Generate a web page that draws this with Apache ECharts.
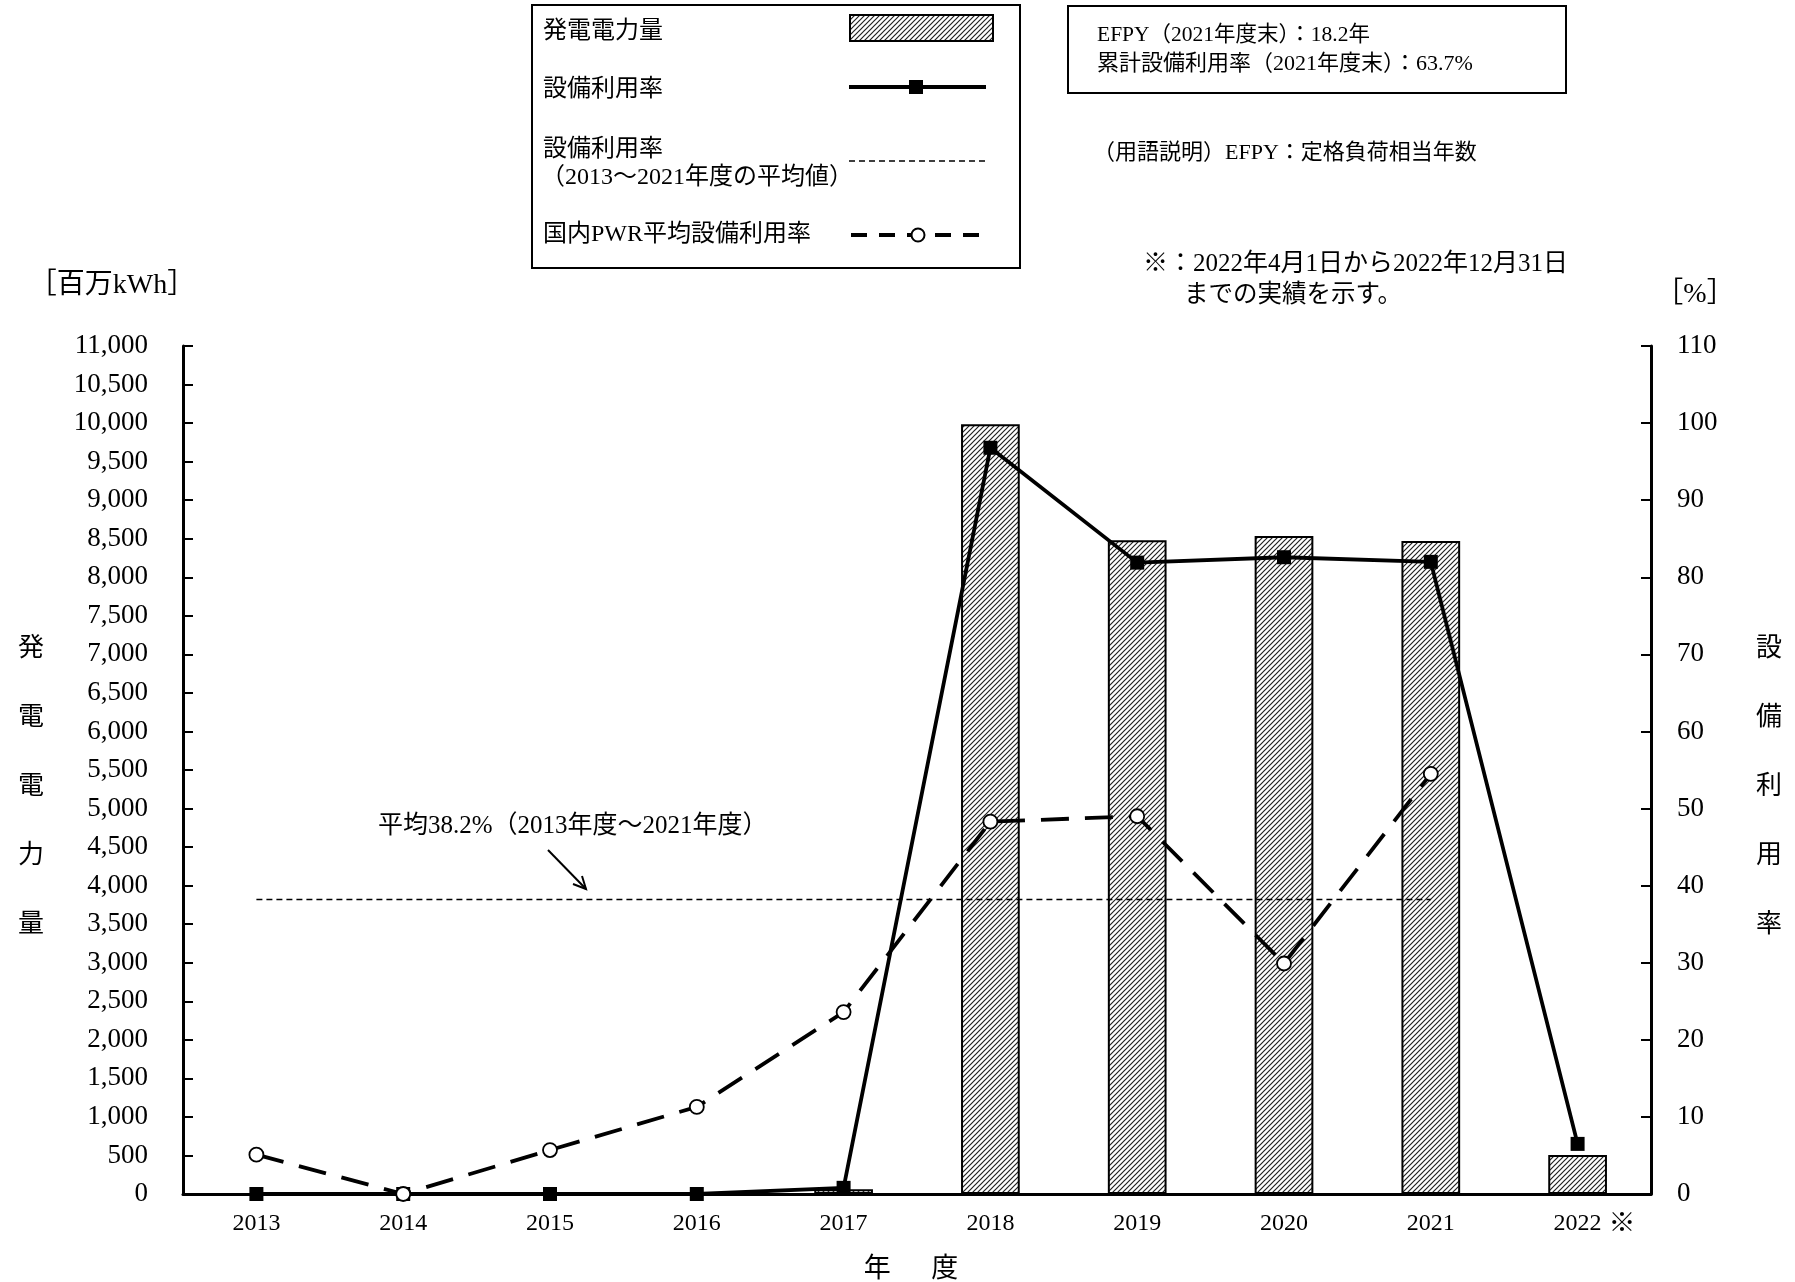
<!DOCTYPE html>
<html><head><meta charset="utf-8">
<script src="https://cdn.jsdelivr.net/npm/echarts@6/dist/echarts.min.js"></script>
<style>html,body{margin:0;padding:0;background:#fff}#c{width:1795px;height:1282px}</style>
</head><body><div id="c"></div>
<script>
// ---- data ----
const years = ['2013','2014','2015','2016','2017','2018','2019','2020','2021','2022'];
const generation = [0, 0, 0, 0, 60, 9985, 8480, 8535, 8470, 505];          // 百万kWh
const capacityFactor = [0, 0, 0, 0, 0.8, 96.8, 81.9, 82.6, 82.0, 6.5];      // %
const pwrAverage = [5.1, 0, 5.7, 11.3, 23.6, 48.3, 49.0, 29.9, 54.5, null]; // %
const avgCapacityFactor = 38.2; // 2013〜2021年度の平均値
const avgFrom = '2013', avgTo = '2021';
const leftAxis = {min: 0, max: 11000, interval: 500};
const rightAxis = {min: 0, max: 110, interval: 10};

const FONT = '"Liberation Serif", "Noto Sans CJK JP", serif';

function hatch(){
  const c = document.createElement('canvas'); c.width = 5; c.height = 5;
  const g = c.getContext('2d');
  g.fillStyle = '#fff'; g.fillRect(0,0,5,5);
  g.strokeStyle = '#222'; g.lineWidth = 1.2;
  g.beginPath();
  g.moveTo(-1,6); g.lineTo(6,-1);
  g.moveTo(-1,1); g.lineTo(1,-1);
  g.moveTo(4,6); g.lineTo(6,4);
  g.stroke();
  return c;
}
const pat = hatch();
const patFill = {image: pat, repeat: 'repeat'};

function txt(x, y, s, size, align, lh){
  const st = {x:x, y:y, text:s, font: size+'px '+FONT, fill:'#000', textAlign: align||'left', textVerticalAlign:'middle'};
  if (lh) st.lineHeight = lh;
  return {type:'text', silent:true, style: st};
}

const chart = echarts.init(document.getElementById('c'), null, {renderer:'canvas'});
const option = {
  animation: false,
  backgroundColor: '#fff',
  textStyle: {fontFamily: FONT, color:'#000'},
  grid: {left: 183, right: 144, top: 346, bottom: 88, containLabel: false, outerBoundsMode: 'none'},
  xAxis: {
    type: 'category', data: years, boundaryGap: true,
    axisLine: {lineStyle: {color:'#000', width: 3}},
    axisTick: {inside: true, length: 7, lineStyle:{color:'#000', width: 2}},
    axisLabel: {fontSize: 24, color:'#000', margin: 18, fontFamily: FONT},
    name: '年\u3000\u2002度', nameLocation: 'middle', nameGap: 62,
    nameTextStyle: {fontSize: 27, color:'#000', fontFamily: FONT, padding: [0, 12, 0, 0]}
  },
  yAxis: [{
    type: 'value', min: leftAxis.min, max: leftAxis.max, interval: leftAxis.interval,
    position: 'left',
    axisLine: {show: true, lineStyle: {color:'#000', width: 3}},
    axisTick: {show: true, inside: true, length: 10, lineStyle:{color:'#000', width: 2}},
    splitLine: {show: false},
    axisLabel: {fontSize: 27, color:'#000', margin: 35, fontFamily: FONT,
      formatter: v => v.toLocaleString('en-US')}
  },{
    type: 'value', min: rightAxis.min, max: rightAxis.max, interval: rightAxis.interval,
    position: 'right',
    axisLine: {show: true, lineStyle: {color:'#000', width: 3}},
    axisTick: {show: true, inside: true, length: 10, lineStyle:{color:'#000', width: 2}},
    splitLine: {show: false},
    axisLabel: {fontSize: 27, color:'#000', margin: 26, fontFamily: FONT}
  }],
  series: [{
    name: '発電電力量', type: 'bar', yAxisIndex: 0, data: generation, barWidth: '40%',
    itemStyle: {color: patFill, borderColor: '#000', borderWidth: 2},
    z: 1
  },{
    name: '設備利用率', type: 'line', yAxisIndex: 1, data: capacityFactor,
    symbol: 'rect', symbolSize: 14,
    lineStyle: {color:'#000', width: 3.8},
    itemStyle: {color:'#000'},
    z: 3,
    markLine: {
      silent: true, symbol: 'none', label: {show: false},
      lineStyle: {color:'#000', width: 1.3, type: [6,4]},
      data: [[{coord: [avgFrom, avgCapacityFactor]}, {coord: [avgTo, avgCapacityFactor]}]]
    }
  },{
    name: '国内PWR平均設備利用率', type: 'line', yAxisIndex: 1, data: pwrAverage,
    symbol: 'circle', symbolSize: 14,
    lineStyle: {color:'#000', width: 3.8, type: [28,16]},
    itemStyle: {color:'#fff', borderColor:'#000', borderWidth: 1.8},
    z: 4
  }],
  graphic: [
    // legend box
    {type:'rect', silent:true, shape:{x:532, y:5, width:488, height:263}, style:{fill:'#fff', stroke:'#000', lineWidth:2}},
    txt(543, 32, '発電電力量', 24),
    {type:'rect', silent:true, shape:{x:850, y:15, width:143, height:26}, style:{fill: patFill, stroke:'#000', lineWidth:2}},
    txt(543, 90, '設備利用率', 24),
    {type:'line', silent:true, shape:{x1:849, y1:87, x2:986, y2:87}, style:{stroke:'#000', lineWidth:4}},
    {type:'rect', silent:true, shape:{x:909, y:80, width:14, height:14}, style:{fill:'#000'}},
    txt(543, 150, '設備利用率', 24),
    txt(541, 178, '（2013～2021年度の平均値）', 24),
    {type:'line', silent:true, shape:{x1:849, y1:161, x2:986, y2:161}, style:{stroke:'#000', lineWidth:1.3, lineDash:[6,4]}},
    txt(543, 235, '国内PWR平均設備利用率', 24),
    {type:'line', silent:true, shape:{x1:851, y1:235, x2:988, y2:235}, style:{stroke:'#000', lineWidth:4, lineDash:[16,12]}},
    {type:'circle', silent:true, shape:{cx:918, cy:235, r:6.5}, style:{fill:'#fff', stroke:'#000', lineWidth:2}},
    // info box
    {type:'rect', silent:true, shape:{x:1068, y:6, width:498, height:87}, style:{fill:'#fff', stroke:'#000', lineWidth:2}},
    txt(1097, 35, 'EFPY（2021年度末）：18.2年', 21.5),
    txt(1097, 64, '累計設備利用率（2021年度末）：63.7%', 22),
    txt(1093, 153, '（用語説明）EFPY：定格負荷相当年数', 22),
    txt(1143, 264, '※：2022年4月1日から2022年12月31日', 25),
    txt(1184, 296, 'までの実績を示す。', 24.5),
    // unit labels
    txt(112, 286, '［百万kWh］', 28, 'center'),
    txt(1695, 295, '［%］', 28, 'center'),
    // axis titles (vertical)
    txt(31, 787, '発\n電\n電\n力\n量', 26, 'center', 69),
    txt(1769, 787, '設\n備\n利\n用\n率', 26, 'center', 69),
    // ※ after 2022
    txt(1622, 1225, '※', 27, 'center'),
    // average annotation
    txt(378, 826, '平均38.2%（2013年度～2021年度）', 25),
    {type:'line', silent:true, shape:{x1:548, y1:850, x2:586, y2:889}, style:{stroke:'#000', lineWidth:2}},
    {type:'polyline', silent:true, shape:{points:[[573,884],[586,889],[582,876]]}, style:{stroke:'#000', lineWidth:2, fill:null}}
  ]
};
chart.setOption(option);
</script></body></html>
